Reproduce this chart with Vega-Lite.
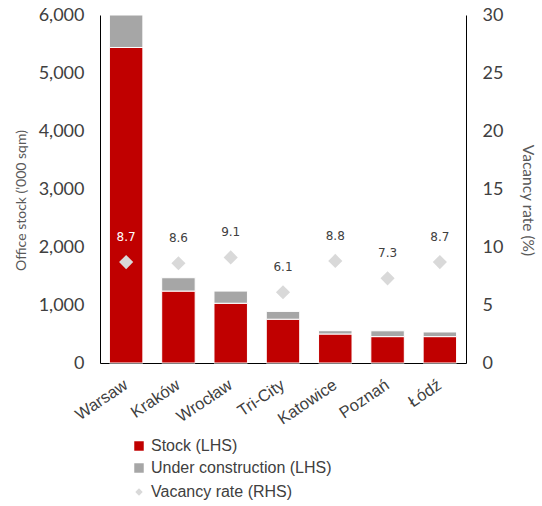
{
  "$schema": "https://vega.github.io/schema/vega-lite/v6.json",
  "width": 366,
  "height": 348,
  "autosize": "none",
  "padding": {"left": 100, "top": 15, "right": 76, "bottom": 143},
  "background": "white",
  "config": {"view": {"stroke": null}},
  "data": {
    "values": [
      {"city": "Warsaw", "stock": 5440, "uc": 560, "vacancy": 8.7},
      {"city": "Kraków", "stock": 1240, "uc": 230, "vacancy": 8.6},
      {"city": "Wrocław", "stock": 1030, "uc": 210, "vacancy": 9.1},
      {"city": "Tri-City", "stock": 755, "uc": 135, "vacancy": 6.1},
      {"city": "Katowice", "stock": 500, "uc": 57, "vacancy": 8.8},
      {"city": "Poznań", "stock": 455, "uc": 100, "vacancy": 7.3},
      {"city": "Łódź", "stock": 455, "uc": 80, "vacancy": 8.7}
    ]
  },
  "encoding": {
    "x": {
      "field": "city", "type": "nominal", "sort": null,
      "scale": {"paddingInner": 0.36, "paddingOuter": 0.18},
      "axis": {
        "title": null, "labelAngle": -34, "labelAlign": "right", "labelBaseline": "middle",
        "labelFont": "Liberation Sans", "labelFontSize": 16.5, "labelColor": "#404040",
        "ticks": false, "labelPadding": 20, "domainColor": "#000000", "domainWidth": 1
      }
    }
  },
  "layer": [
    {
      "transform": [
        {"fold": ["stock", "uc"], "as": ["key", "value"]},
        {"lookup": "key", "from": {"data": {"values": [
          {"k": "stock", "series": "Stock (LHS)", "ord": 0},
          {"k": "uc", "series": "Under construction (LHS)", "ord": 1}
        ]}, "key": "k", "fields": ["series", "ord"]}}
      ],
      "mark": {"type": "bar", "stroke": "white", "strokeWidth": 1},
      "encoding": {
        "y": {
          "field": "value", "type": "quantitative", "stack": "zero",
          "scale": {"domain": [0, 6000], "nice": false},
          "axis": {
            "title": "Office stock ('000 sqm)", "titleFont": "Lato", "titleFontSize": 14,
            "titleFontWeight": "normal", "titleColor": "#595959", "titlePadding": 10,
            "titleY": 185,
            "labelFont": "Lato", "labelFontSize": 18, "labelColor": "#404040",
            "values": [0, 1000, 2000, 3000, 4000, 5000, 6000], "format": ",.0f",
            "grid": false, "ticks": false, "labelPadding": 16,
            "domainColor": "#000000", "domainWidth": 1
          }
        },
        "order": {"field": "ord", "type": "quantitative"},
        "color": {
          "field": "series", "type": "nominal",
          "scale": {
            "domain": ["Stock (LHS)", "Under construction (LHS)"],
            "range": ["#c00000", "#a6a6a6"]
          },
          "legend": {
            "title": null, "orient": "none", "legendX": 31, "legendY": 423,
            "direction": "vertical", "labelFont": "Liberation Sans", "labelFontSize": 16,
            "labelColor": "#404040", "labelLimit": 0, "symbolSize": 90, "rowPadding": 6, "labelOffset": 4,
            "symbolType": "square", "symbolStrokeWidth": 0
          }
        }
      }
    },
    {
      "encoding": {
        "y": {
          "field": "vacancy", "type": "quantitative",
          "scale": {"domain": [0, 30], "nice": false},
          "axis": {
            "orient": "right", "title": "Vacancy rate (%)", "titleFont": "Lato",
            "titleFontSize": 15.5, "titleFontWeight": "normal", "titleColor": "#595959",
            "titleAngle": 90, "titlePadding": 17, "titleY": 185,
            "labelFont": "Lato", "labelFontSize": 18, "labelColor": "#404040",
            "values": [0, 5, 10, 15, 20, 25, 30], "grid": false, "ticks": false,
            "labelPadding": 16, "domainColor": "#000000", "domainWidth": 1
          }
        }
      },
      "layer": [
        {
          "mark": {"type": "point", "filled": true, "size": 200, "opacity": 1},
          "encoding": {
            "fill": {
              "datum": "Vacancy rate (RHS)", "type": "nominal",
              "scale": {"domain": ["Vacancy rate (RHS)"], "range": ["#d9d9d9"]},
              "legend": {
                "title": null, "orient": "none", "legendX": 31, "legendY": 469,
                "labelFont": "Liberation Sans", "labelFontSize": 16,
                "labelColor": "#404040", "labelLimit": 0, "symbolSize": 55, "labelOffset": 4,
                "symbolStrokeWidth": 0
              }
            },
            "shape": {
              "datum": "Vacancy rate (RHS)", "type": "nominal",
              "scale": {"domain": ["Vacancy rate (RHS)"], "range": ["diamond"]},
              "legend": {
                "title": null, "orient": "none", "legendX": 31, "legendY": 469,
                "labelFont": "Liberation Sans", "labelFontSize": 16,
                "labelColor": "#404040", "labelLimit": 0, "symbolSize": 55, "labelOffset": 4,
                "symbolStrokeWidth": 0
              }
            }
          }
        },
        {
          "mark": {"type": "text", "dy": -25, "font": "DejaVu Sans", "fontSize": 12},
          "encoding": {
            "text": {"field": "vacancy", "type": "quantitative", "format": ".1f"},
            "color": {"condition": {"test": "datum.city === 'Warsaw'", "value": "#ffffff"}, "value": "#404040"}
          }
        }
      ]
    }
  ],
  "resolve": {"scale": {"y": "independent"}}
}
